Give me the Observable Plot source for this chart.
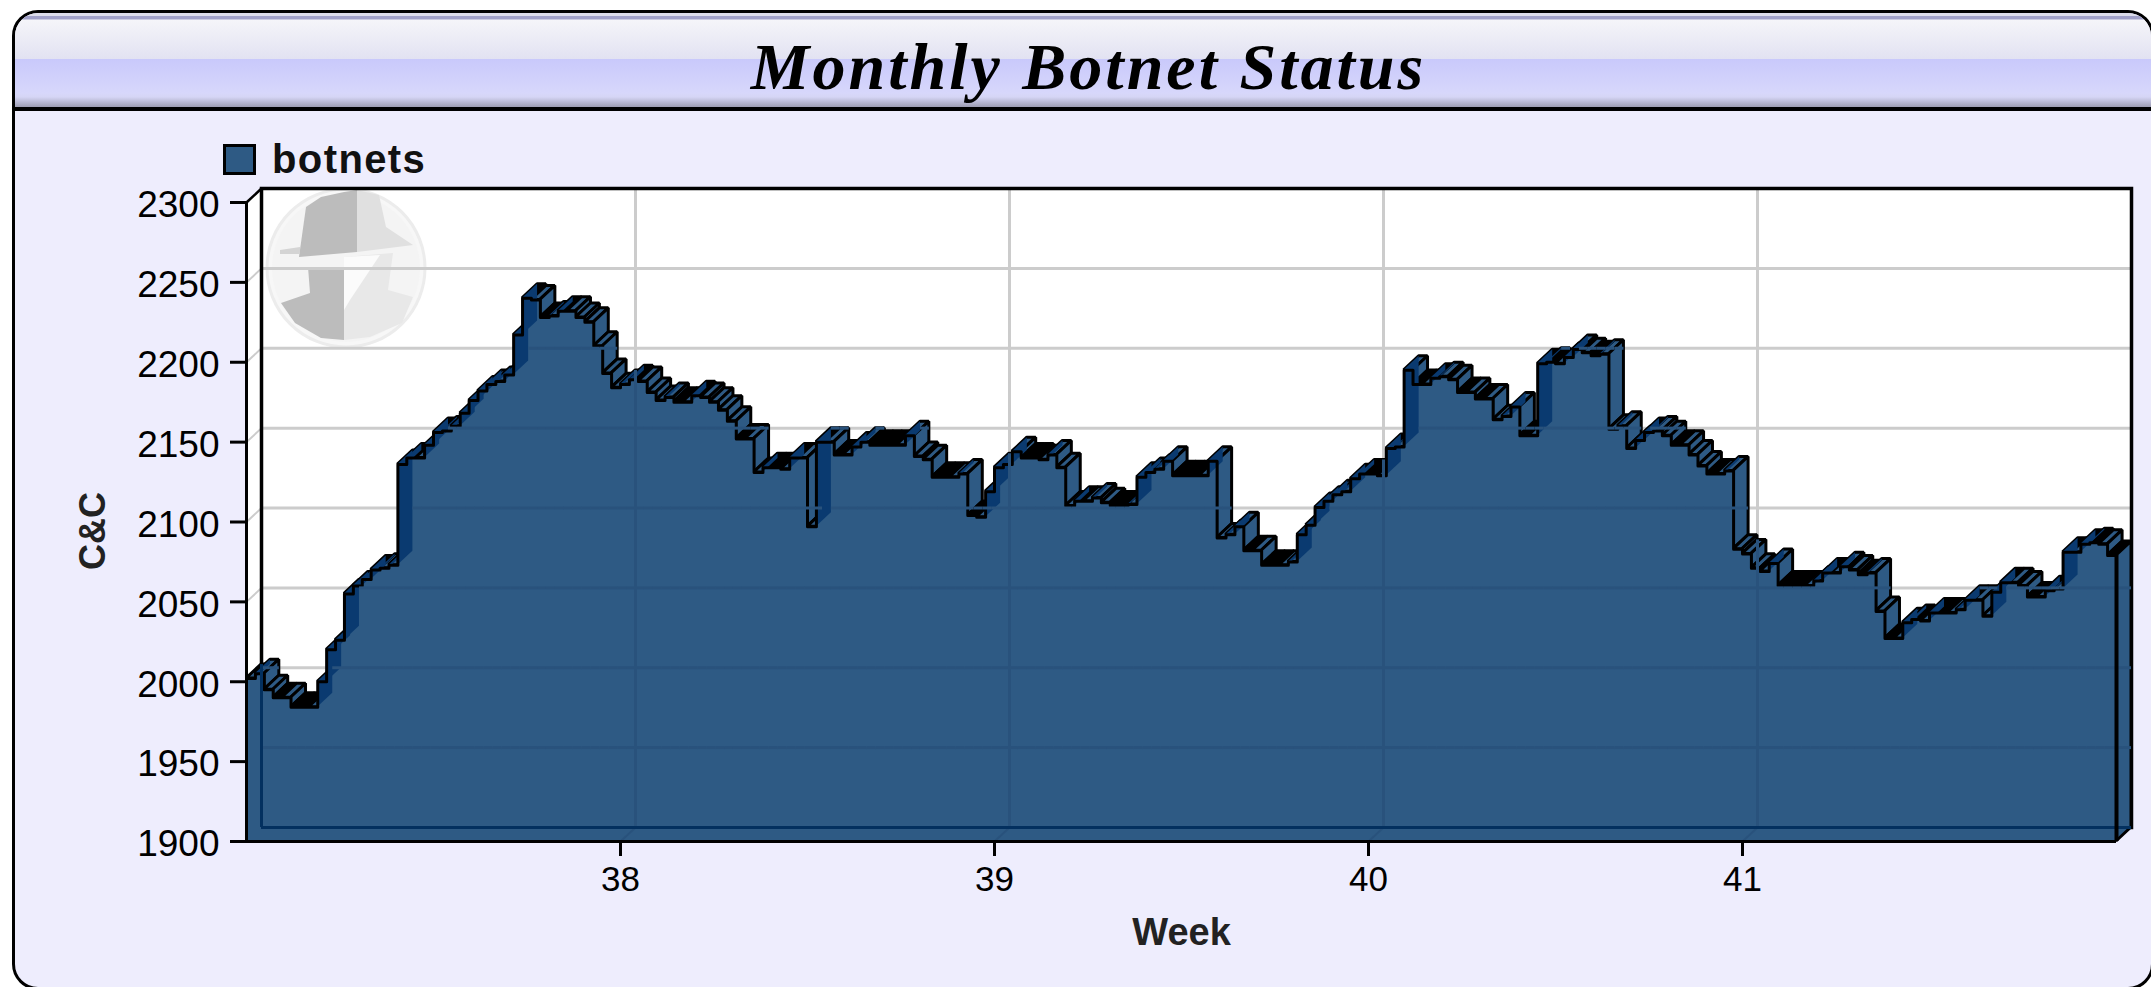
<!DOCTYPE html>
<html>
<head>
<meta charset="utf-8">
<script src="https://cdn.jsdelivr.net/npm/d3@7"></script>
<script src="https://cdn.jsdelivr.net/npm/@observablehq/plot@0.6"></script>
<style>
html,body{margin:0;padding:0;background:#fff;overflow:hidden;width:2151px;height:987px}
#page{position:relative;width:2151px;height:987px;overflow:hidden}
#panel{position:absolute;left:12px;top:10px;width:2142px;height:980px;box-sizing:border-box;border:3.5px solid #000;border-radius:26px;background:#eeedfd;overflow:hidden}
#head{position:absolute;left:0;top:0;right:0;height:93.5px;border-bottom:4px solid #000;
background:linear-gradient(to bottom,#dcdcea 0,#dcdcea 3px,#a0a0c8 3px,#a0a0c8 6px,#f5f5f9 7px,#e2e2f2 46px,#c9c9fb 46px,#d7d7fb 80px,#d5d5f5 84px,#9f9fb5 93.5px)}
#title{position:absolute;left:0;top:29px;width:2151px;text-align:center;font:italic bold 66px "Liberation Serif",serif;letter-spacing:3px;color:#000;white-space:nowrap;transform:translateX(13px)}
#chart{position:absolute;left:0;top:111px}
#legend{position:absolute;left:223px;top:141px;display:flex;align-items:center;font:bold 40px "Liberation Sans",sans-serif;letter-spacing:1.4px;color:#111;height:36px}
#legend i{display:block;width:27px;height:25px;border:3px solid #000;background:#2e5a84;margin-right:16px}
svg{background:transparent;overflow:visible}
</style>
</head>
<body>
<div id="page">
  <div id="panel"><div id="head"></div></div>
  <div id="title">Monthly Botnet Status</div>
  <div id="chart"></div>
  <div id="legend"><i></i><span>botnets</span></div>
</div>
<script>
const seriesName = "botnets";
const yTicks = [1900,1950,2000,2050,2100,2150,2200,2250,2300];
const xTicks = [38,39,40,41];
// readings taken every 4 hours, week 37 to week 42
const values = [
2002,2005,1995,1990,1990,1984,1984,1984,2000,2020,2026,2055,2060,2064,2070,2071,2073,2136,2140,2140,
2148,2156,2157,2160,2168,2176,2182,2186,2188,2192,2217,2240,2239,2228,2229,2232,2232,2228,2225,2210,
2193,2184,2186,2189,2188,2181,2176,2178,2175,2175,2179,2178,2175,2170,2163,2152,2152,2131,2134,2134,
2133,2140,2140,2097,2150,2150,2142,2142,2147,2150,2148,2148,2148,2148,2154,2141,2139,2128,2128,2128,
2130,2104,2103,2119,2134,2136,2144,2140,2140,2139,2142,2134,2110,2113,2113,2115,2112,2110,2110,2111,
2128,2131,2133,2138,2129,2129,2129,2129,2138,2090,2092,2097,2082,2082,2073,2073,2073,2075,2092,2098,
2109,2113,2117,2119,2127,2130,2130,2129,2146,2147,2195,2186,2186,2190,2191,2189,2181,2181,2177,2177,
2164,2166,2172,2154,2154,2199,2200,2199,2203,2208,2206,2204,2205,2158,2160,2146,2151,2156,2157,2154,
2148,2148,2142,2135,2130,2130,2132,2083,2080,2071,2069,2074,2060,2060,2060,2060,2063,2068,2068,2072,
2070,2067,2068,2044,2027,2027,2037,2039,2038,2043,2043,2043,2045,2051,2051,2041,2056,2062,2062,2060,
2053,2053,2057,2058,2081,2081,2086,2087,2086,2079,2079];
const weeks = values.map((_, i) => 37 + i / 42);

const offX = 15, offY = -14;                 // pixel offset of the 3D depth
const depthX = 15 / 374, depthY = 14 / 1.5975; // the same depth in data units

const FILL = "#2e5a84", WALL = "#0a3a70", INK = "#000", GRID = "#cccccc", GRID_DARK = "#29527c", NAVY = "#03305f";
const table = values.map((v, i) => ({week: weeks[i], v}));

// faces of the extruded area, left to right
const faces = [], risers = [];
let id = 0;
const quad = (list, x0, v0, x1, v1, fill, stroke) => {
  id++;
  list.push({id, fill, stroke, x1: x0, y1: v0, x2: x0 + depthX, y2: v0 + depthY});
  list.push({id, fill, stroke, x1: x1, y1: v1, x2: x1 + depthX, y2: v1 + depthY});
};
for (let i = 0; i < values.length - 1; i++) {
  const v = values[i], n = values[i + 1], x0 = weeks[i], x1 = weeks[i + 1];
  quad(faces, x0, v, x1, v, Math.abs(n - v) <= 1 ? INK : FILL, INK);
  if (n > v) quad(risers, x1, v, x1, n, WALL, "none");
  else if (n < v) quad(faces, x1, v, x1, n, FILL, INK);
}
quad(faces, 42, values[values.length - 1], 42, 1900, FILL, INK);

// the part of each grid line that lies behind the area
const darkY = [];
for (const g of yTicks.slice(1)) values.slice(0, -1).forEach((v, i) => {
  if (v >= g) darkY.push({y: g, x1: weeks[i], x2: weeks[i + 1]});
});
const stepAt = x => values[Math.floor((x - 37) * 42)];
const darkX = xTicks.map(x => ({x, top: stepAt(x)}));

const leftWall = [
  {x1: 37, y1: 1900, x2: 37 + depthX, y2: 1900 + depthY},
  {x1: 37, y1: 2300, x2: 37 + depthX, y2: 2300 + depthY}
];

function logo() {
  const g = d3.create("svg:g");
  g.attr("transform", "translate(0,-111)");
  g.append("ellipse").attr("cx",346).attr("cy",268).attr("rx",79).attr("ry",79).attr("fill","#f7f7f7").attr("stroke","#ececec").attr("stroke-width",3);
  g.append("ellipse").attr("cx",346).attr("cy",268).attr("rx",74).attr("ry",74).attr("fill","#f4f4f4");
  const shape = (pts, c) => g.append("polygon").attr("points", pts).attr("fill", c);
  shape("357,190 379,195 386,227 413,245 357,252","#e0e0e0");
  shape("344,192 357,190 357,252 299,257 306,207 321,197","#bcbcbc");
  shape("280,250 300,247 300,254 280,254","#d4d4d4");
  shape("344,257 393,253 388,290 413,297 402,323 370,337 344,340","#e8e8e8");
  shape("344,257 380,255 350,300 344,310","#fbfbfb");
  shape("308,267 344,267 344,340 321,338 295,323 281,303 310,293","#bcbcbc");
  return g.node();
}

const plot = Plot.plot({
  width: 2151, height: 876,
  marginLeft: 246, marginRight: 35, marginTop: 91, marginBottom: 146,
  style: {background: "transparent", fontFamily: "'Liberation Sans',sans-serif", color: "#000", overflow: "visible"},
  x: {domain: [37, 42]},
  y: {domain: [1900, 2300]},
  color: {type: "identity"},
  marks: [
    Plot.frame({fill: "white", stroke: "none", dx: offX, dy: offY}),
    Plot.area(leftWall, {x1: "x1", y1: "y1", x2: "x2", y2: "y2", fill: "white"}),
    logo,
    Plot.gridY(yTicks, {dx: offX, dy: offY, stroke: GRID, strokeOpacity: 1, strokeWidth: 3}),
    Plot.gridX(xTicks, {dx: offX, dy: offY, stroke: GRID, strokeOpacity: 1, strokeWidth: 3}),
    Plot.link(yTicks, {x1: 37, x2: 37 + depthX, y1: d => d, y2: d => d + depthY, stroke: GRID, strokeWidth: 2}),
    Plot.frame({stroke: INK, strokeWidth: 3.5, dx: offX, dy: offY}),
    Plot.areaY(table, {x: "week", y1: 1900, y2: "v", curve: "step-after", fill: FILL, dx: offX, dy: offY}),
    Plot.area(faces, {x1: "x1", y1: "y1", x2: "x2", y2: "y2", z: "id", fill: "fill", stroke: "stroke", strokeWidth: 3, strokeLinejoin: "miter"}),
    Plot.areaY(table, {x: "week", y1: 1900, y2: "v", curve: "step-after", fill: FILL}),
    Plot.area(risers, {x1: "x1", y1: "y1", x2: "x2", y2: "y2", z: "id", fill: "fill"}),
    Plot.line(table, {x: "week", y: "v", curve: "step-after", stroke: INK, strokeWidth: 3}),
    Plot.ruleY(darkY, {y: "y", x1: "x1", x2: "x2", dx: offX, dy: offY, stroke: GRID_DARK, strokeWidth: 3}),
    Plot.ruleX(darkX, {x: "x", y1: 1900, y2: "top", dx: offX, dy: offY, stroke: GRID_DARK, strokeWidth: 3}),
    Plot.link(xTicks, {x1: d => d, x2: d => d + depthX, y1: 1900, y2: 1900 + depthY, stroke: GRID_DARK, strokeWidth: 2}),
    Plot.ruleY([1900], {x1: 37, x2: 42, dx: offX, dy: offY, stroke: NAVY, strokeWidth: 3}),
    Plot.ruleX([37], {y1: 1900, y2: values[0], dx: offX, dy: offY, stroke: NAVY, strokeWidth: 3}),
    Plot.link([2300], {x1: 37, x2: 37 + depthX, y1: d => d, y2: d => d + depthY, stroke: INK, strokeWidth: 2.5}),
    Plot.ruleX([37], {y1: 1900, y2: 2300, stroke: INK, strokeWidth: 3}),
    Plot.ruleX([42], {y1: 1900, y2: values[values.length - 1], stroke: INK, strokeWidth: 4}),
    Plot.ruleY([1900], {x1: 37, x2: 42, stroke: INK, strokeWidth: 3}),
    Plot.axisY(yTicks, {tickSize: 16, strokeWidth: 3, text: null, fill: "none", stroke: INK, label: null}),
    Plot.axisY(yTicks, {tickSize: 0, tickPadding: 27, dy: 3, fontSize: 37, tickFormat: d => String(d), label: null, stroke: "none", fill: INK}),
    Plot.axisX(xTicks, {tickSize: 15, tickPadding: 10, strokeWidth: 3, fontSize: 35, tickFormat: d => String(d), label: null, stroke: INK, fill: INK}),
    Plot.text(["Week"], {frameAnchor: "bottom", lineAnchor: "middle", dy: 91, fontWeight: "bold", fontSize: 38, fill: "#222"}),
    Plot.text(["C&C"], {frameAnchor: "left", textAnchor: "middle", lineAnchor: "middle", rotate: -90, dx: -153, dy: 9, fontWeight: "bold", fontSize: 36, fill: "#222"})
  ]
});
document.getElementById("chart").appendChild(plot);
document.querySelector("#legend span").textContent = seriesName;
</script>
</body>
</html>
